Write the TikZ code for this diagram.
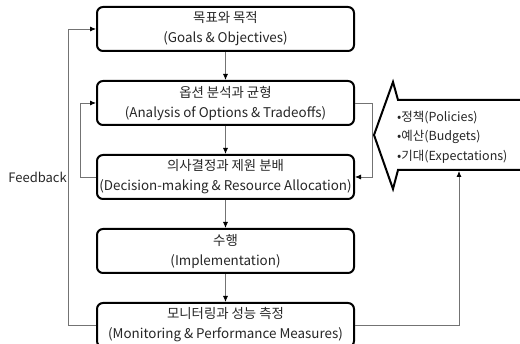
\documentclass[tikz,border=0pt]{standalone}
\usepackage{fontspec}
\setmainfont{Noto Sans CJK KR}
\usetikzlibrary{positioning,arrows.meta}
\tikzstyle{stagebox} = [draw=black, fill=white, line width=2pt,
    rectangle, rounded corners=6pt, minimum width=257pt, minimum height=44pt,
    inner sep=0pt, align=center, text=black!85, font=\fontsize{13.4}{20}\selectfont]
\tikzstyle{flow} = [draw=black!55, line width=0.8pt, -{Latex[length=6pt,width=5pt,color=black]}]
\tikzstyle{bigarrow} = [draw=black, fill=white, line width=2pt, line join=miter]

\begin{document}
\begin{tikzpicture}[x=1pt, y=-1pt]
                \useasboundingbox (0,0) rectangle (520,344);
                \node [stagebox] (goals) at (225.5,29) {목표와 목적\\(Goals \& Objectives)};
                \node [stagebox, below=28pt of goals] (analysis) {옵션 분석과 균형\\(Analysis of Options \& Tradeoffs)};
                \node [stagebox, below=28pt of analysis] (decision) {의사결정과 제원 분배\\(Decision-making \& Resource Allocation)};
                \node [stagebox, below=28pt of decision] (action) {수행\\(Implementation)};
                \node [stagebox, below=28pt of action] (monitor) {모니터링과 성능 측정\\(Monitoring \& Performance Measures)};
                % main flow
                \draw [flow] (goals) -- (analysis);
                \draw [flow] (analysis) -- (decision);
                \draw [flow] (decision) -- (action);
                \draw [flow] (action) -- (monitor);
                % feedback loops
                \draw [flow] (monitor.west) -- ++(-28,0) |- (goals.west);
                \draw [flow] (decision.west) -- ++(-16,0) |- (analysis.west);
                \node [left=29pt of decision.west, inner sep=0pt, text=black!85,
                    font=\fontsize{13}{14}\selectfont] (fblabel) {Feedback};
                \draw [flow] (analysis.east) -- ++(17,0) |- (decision.east);
                % external inputs
                \draw [bigarrow] (530,100) -- (398,100) -- (393,82) -- (374,135)
                    -- (393,189) -- (398,170) -- (530,170);
                \node [anchor=west, align=left, inner sep=0pt, text=black!85,
                    font=\fontsize{12.5}{19.5}\selectfont] (inputs) at (397,137)
                    {•정책(Policies)\\•예산(Budgets)\\•기대(Expectations)};
                \coordinate (inbottom) at (459,171);
                \draw [flow] (monitor.east) -| (inbottom);
            \end{tikzpicture}
\end{document}
